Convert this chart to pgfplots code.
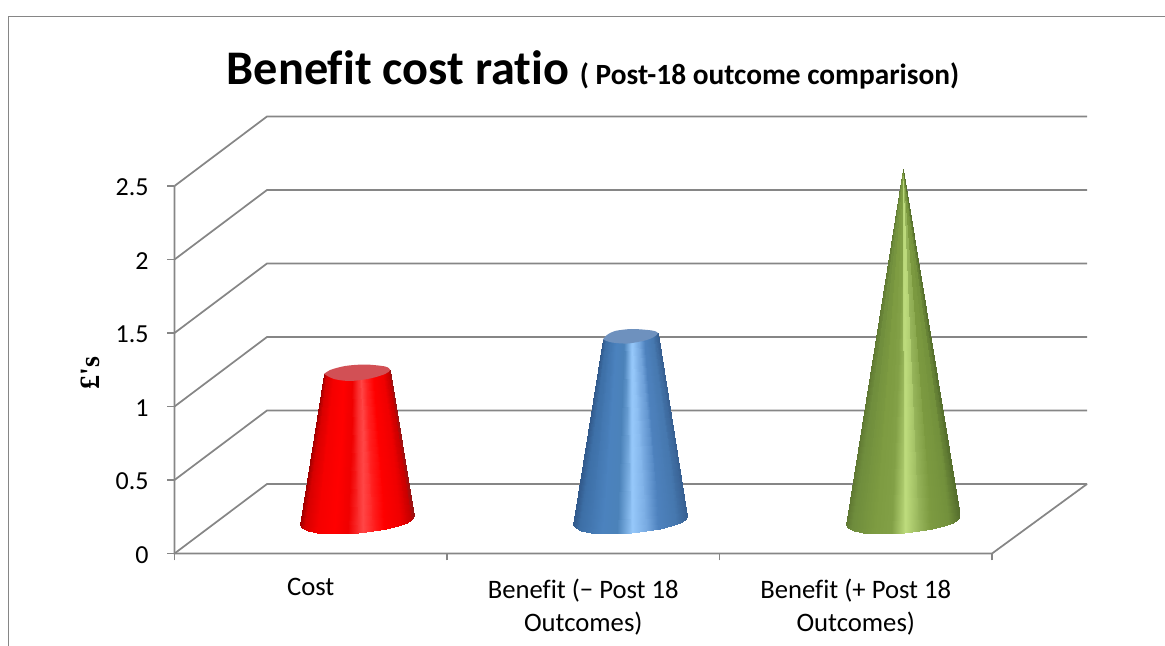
\documentclass[border=0pt]{standalone}
\usepackage{fontspec}
\setmainfont[Ligatures=CommonOff]{Carlito}
\newfontfamily\labfont{Liberation Serif}
\usepackage{pgfplots}
\usepackage{pgfplotstable}
\pgfplotsset{compat=1.18}

\definecolor{gridgray}{RGB}{134,134,134}
\definecolor{capred}{RGB}{210,80,85}
\definecolor{capblue}{RGB}{110,145,190}

% columns: offset from the cone centre, height, position across the cone
% first 13 rows are the base arc, last 13 the top edge
\pgfplotstableread{
dx y c
-0.2092 0.1939 0
-0.2011 0.1727 0.0193
-0.1795 0.1551 0.0711
-0.1453 0.1422 0.1526
-0.1013 0.1350 0.2579
-0.0506 0.1337 0.3789
0.0037 0.1388 0.5088
0.0576 0.1497 0.6377
0.1079 0.1656 0.7579
0.1505 0.1855 0.8596
0.1831 0.2082 0.9377
0.2030 0.2319 0.9851
0.2092 0.2551 1
-0.1211 1.2211 0
-0.1164 1.2216 0.0193
-0.1039 1.2230 0.0711
-0.0841 1.2253 0.1526
-0.0586 1.2281 0.2579
-0.0293 1.2314 0.3789
0.0021 1.2349 0.5088
0.0334 1.2384 0.6377
0.0625 1.2417 0.7579
0.0871 1.2445 0.8596
0.1060 1.2466 0.9377
0.1175 1.2479 0.9851
0.1211 1.2483 1
}\costcone

\pgfplotstableread{
dx y c
-0.2092 0.1939 0
-0.2011 0.1727 0.0193
-0.1795 0.1551 0.0711
-0.1453 0.1422 0.1526
-0.1013 0.1350 0.2579
-0.0506 0.1337 0.3789
0.0037 0.1388 0.5088
0.0576 0.1497 0.6377
0.1079 0.1656 0.7579
0.1505 0.1855 0.8596
0.1831 0.2082 0.9377
0.2030 0.2319 0.9851
0.2092 0.2551 1
-0.1009 1.4558 0
-0.0970 1.4567 0.0193
-0.0866 1.4589 0.0711
-0.0701 1.4625 0.1526
-0.0489 1.4672 0.2579
-0.0244 1.4725 0.3789
0.0018 1.4783 0.5088
0.0278 1.4840 0.6377
0.0520 1.4893 0.7579
0.0726 1.4938 0.8596
0.0883 1.4972 0.9377
0.0979 1.4993 0.9851
0.1009 1.5000 1
}\benefitcone

\pgfplotstableread{
dx y c
-0.2092 0.1939 0
-0.2011 0.1727 0.0193
-0.1795 0.1551 0.0711
-0.1453 0.1422 0.1526
-0.1013 0.1350 0.2579
-0.0506 0.1337 0.3789
0.0037 0.1388 0.5088
0.0576 0.1497 0.6377
0.1079 0.1656 0.7579
0.1505 0.1855 0.8596
0.1831 0.2082 0.9377
0.2030 0.2319 0.9851
0.2092 0.2551 1
0.002 2.6156 0
0.002 2.6156 0.0193
0.002 2.6156 0.0711
0.002 2.6156 0.1526
0.002 2.6156 0.2579
0.002 2.6156 0.3789
0.002 2.6156 0.5088
0.002 2.6156 0.6377
0.002 2.6156 0.7579
0.002 2.6156 0.8596
0.002 2.6156 0.9377
0.002 2.6156 0.9851
0.002 2.6156 1
}\postcone

\pgfplotsset{
  colormap={redcone}{rgb255(0pt)=(160,0,0) rgb255(4pt)=(215,0,0) rgb255(15pt)=(245,0,0) rgb255(30pt)=(255,0,0)
    rgb255(42pt)=(240,0,0) rgb255(55pt)=(255,70,70) rgb255(66pt)=(255,25,25) rgb255(74pt)=(255,0,0)
    rgb255(88pt)=(240,0,0) rgb255(97pt)=(200,0,0) rgb255(100pt)=(150,20,20)},
  colormap={bluecone}{rgb255(0pt)=(50,90,140) rgb255(5pt)=(60,110,165) rgb255(25pt)=(75,130,190)
    rgb255(38pt)=(75,130,185) rgb255(52pt)=(150,200,250) rgb255(64pt)=(120,170,225) rgb255(74pt)=(78,130,190)
    rgb255(90pt)=(70,120,175) rgb255(100pt)=(55,95,145)},
  colormap={greencone}{rgb255(0pt)=(95,120,50) rgb255(5pt)=(110,140,60) rgb255(25pt)=(125,155,65)
    rgb255(40pt)=(130,160,70) rgb255(52pt)=(190,220,125) rgb255(64pt)=(150,180,90) rgb255(74pt)=(125,155,65)
    rgb255(90pt)=(115,145,60) rgb255(100pt)=(85,110,45)},
}

\begin{document}
\begin{tikzpicture}
\path[use as bounding box] (-130.875pt,-69.375pt) rectangle (742.875pt,415.125pt);
\begin{axis}[
    at={(0pt,0pt)}, anchor=south west,
    scale only axis,
    width=684.4pt, height=327.75pt,
    xmin=-0.5, xmax=2.8486,
    ymin=0, ymax=2.9728,
    clip=false, no markers,
    axis x line=bottom, axis y line=left,
    axis line style={draw=none,-},
    xtick={0,1,2},
    xticklabels={Cost,Benefit (− Post 18\\Outcomes),Benefit (+ Post 18\\Outcomes)},
    minor xtick={-0.5,0.5,1.5,2.5},
    ytick={0,0.5,1,1.5,2,2.5},
    tick align=outside,
    major tick length=5.25pt, minor tick length=5.25pt,
    ytick style={draw=gridgray,line width=1.3pt},
    xtick style={draw=none},
    minor x tick style={draw=gridgray,line width=1.3pt},
    /pgf/number format/assume math mode=true,
    tick label style={black},
    xticklabel style={font=\fontsize{20pt}{25pt}\selectfont,align=center,yshift=-10pt},
    yticklabel style={font=\fontsize{19.5pt}{24pt}\selectfont,inner sep=0pt,xshift=-14pt,yshift=-1pt},
    point meta min=0, point meta max=1,
    title={\fontsize{36.2pt}{40pt}\selectfont\bfseries Benefit cost ratio \fontsize{22pt}{26pt}\selectfont ( Post-18 outcome comparison)},
    title style={at={(axis description cs:0.4586,1.0895)},anchor=center,inner sep=0pt},
    ylabel={\labfont\bfseries\fontsize{21pt}{24pt}\selectfont £'s},
    ylabel style={at={(axis description cs:-0.0926,0.413)},anchor=center,inner sep=0pt},
]
% floor and y axis
\addplot[gridgray,line width=1.3pt] coordinates {(-0.5,2.5) (-0.5,0) (2.5,0) (2.8486,0.4728)};
% wall grid lines
\addplot[gridgray,line width=1.3pt] coordinates {(-0.5,0) (-0.1606,0.4728) (2.8486,0.4728)};
\addplot[gridgray,line width=1.3pt] coordinates {(-0.5,0.5) (-0.1606,0.9728) (2.8486,0.9728)};
\addplot[gridgray,line width=1.3pt] coordinates {(-0.5,1) (-0.1606,1.4728) (2.8486,1.4728)};
\addplot[gridgray,line width=1.3pt] coordinates {(-0.5,1.5) (-0.1606,1.9728) (2.8486,1.9728)};
\addplot[gridgray,line width=1.3pt] coordinates {(-0.5,2) (-0.1606,2.4728) (2.8486,2.4728)};
\addplot[gridgray,line width=1.3pt] coordinates {(-0.5,2.5) (-0.1606,2.9728) (2.8486,2.9728)};
% cones
\addplot[surf,shader=interp,colormap name=redcone,mesh/rows=2,mesh/cols=13,point meta=explicit]
  table[x expr=\thisrow{dx}+0.17,y=y,meta=c] {\costcone};
\addplot[fill=capred,draw=none,smooth] coordinates {(0.0489,1.2211) (0.0856,1.1871) (0.1443,1.1735) (0.2177,1.1905) (0.2728,1.2211) (0.2911,1.2483) (0.2728,1.2721) (0.1994,1.2857) (0.1260,1.2755) (0.0709,1.2483) (0.0489,1.2211)};
\addplot[surf,shader=interp,colormap name=bluecone,mesh/rows=2,mesh/cols=13,point meta=explicit]
  table[x expr=\thisrow{dx}+1.173,y=y,meta=c] {\benefitcone};
\addplot[fill=capblue,draw=none,smooth] coordinates {(1.0721,1.4558) (1.1051,1.4354) (1.1638,1.4286) (1.2262,1.4490) (1.2592,1.4728) (1.2739,1.5) (1.2519,1.5170) (1.1786,1.5272) (1.1161,1.5136) (1.0868,1.4864) (1.0721,1.4558)};
\addplot[surf,shader=interp,colormap name=greencone,mesh/rows=2,mesh/cols=13,point meta=explicit]
  table[x expr=\thisrow{dx}+2.173,y=y,meta=c] {\postcone};
\end{axis}
% chart frame
\draw[gridgray,line width=1.3pt] (-124.5pt,-69.375pt) -- (-124.5pt,402.75pt) -- (742.875pt,402.75pt);
\end{tikzpicture}
\end{document}
